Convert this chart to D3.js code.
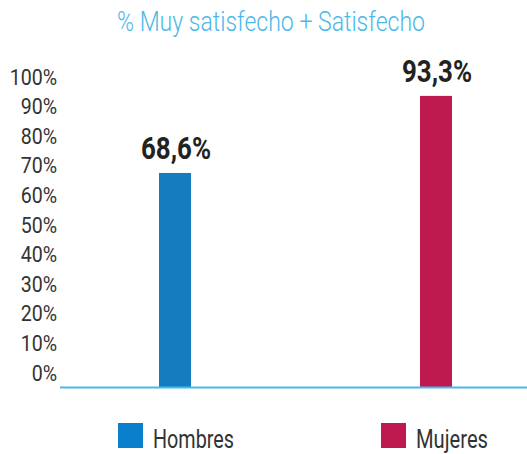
<!DOCTYPE html>
<html><head><meta charset="utf-8">
<script src="https://cdn.jsdelivr.net/npm/d3@7"></script>
<style>body{margin:0;background:#fff}svg{display:block}</style>
</head><body>
<script>
const categories = ["Hombres", "Mujeres"];
const values = [68.6, 93.3];
const valueLabels = ["68,6%", "93,3%"];
const colors = ["#137dc0", "#be1a4f"];
const legendColors = ["#0a7fcb", "#be1a4f"];
const tickValues = [0,10,20,30,40,50,60,70,80,90,100];
const title = "% Muy satisfecho + Satisfecho";

const W = 527, H = 454;
const svg = d3.select("body").append("svg").attr("width", W).attr("height", H);
const font = "Roboto, 'Noto Sans', sans-serif";

function condense(sel, factor) {
  sel.each(function () {
    const w = this.getComputedTextLength();
    d3.select(this).attr("textLength", w * factor).attr("lengthAdjust", "spacingAndGlyphs");
  });
}

const t = svg.append("text").attr("x", 271).attr("y", 31).attr("text-anchor", "middle")
  .attr("font-family", font).attr("font-weight", 300).attr("font-size", 28).attr("fill", "#4ab8e8").text(title);
t.attr("textLength", 308).attr("lengthAdjust", "spacingAndGlyphs");

const x = d3.scalePoint().domain(categories).range([175, 436]);
const y = d3.scaleLinear().domain([0, 100]).range([387, 75]);
const yTick = d3.scaleLinear().domain([0, 100]).range([373, 77]);

const ax = svg.append("g").attr("transform", "translate(57,0)")
  .call(d3.axisLeft(yTick).tickValues(tickValues).tickFormat(d => d + "%").tickSize(0).tickPadding(0));
ax.select(".domain").remove();
ax.selectAll("text").attr("font-family", font).attr("font-size", 22).attr("fill", "#333");
condense(ax.selectAll("text"), 0.89);

const bw = 32;
svg.selectAll("rect.bar").data(values).join("rect").attr("class", "bar")
  .attr("x", (d, i) => x(categories[i]) - bw / 2).attr("width", bw)
  .attr("y", d => y(d)).attr("height", d => y(0) - y(d))
  .attr("fill", (d, i) => colors[i]);

svg.selectAll("text.val").data(values).join("text").attr("class", "val")
  .attr("x", (d, i) => x(categories[i]) + 1).attr("y", d => y(d) - 14)
  .attr("text-anchor", "middle").attr("font-family", font).attr("font-weight", "bold")
  .attr("font-size", 32).attr("fill", "#222").text((d, i) => valueLabels[i])
  .attr("textLength", 70).attr("lengthAdjust", "spacingAndGlyphs");

svg.append("line").attr("x1", 60).attr("x2", W).attr("y1", y(0) + 0.5).attr("y2", y(0) + 0.5)
  .attr("stroke", "#4ab8e8").attr("stroke-width", 2);

const legX = [118, 381];
const legW = [81, 72];
const lg = svg.selectAll("g.leg").data(categories).join("g").attr("class", "leg")
  .attr("transform", (d, i) => `translate(${legX[i]},423)`);
lg.append("rect").attr("width", 25).attr("height", 25).attr("fill", (d, i) => legendColors[i]);
lg.append("text").attr("x", 35).attr("y", 25).attr("font-family", font).attr("font-size", 25)
  .attr("fill", "#333").text(d => d)
  .attr("textLength", (d, i) => legW[i]).attr("lengthAdjust", "spacingAndGlyphs");
</script>
</body></html>
